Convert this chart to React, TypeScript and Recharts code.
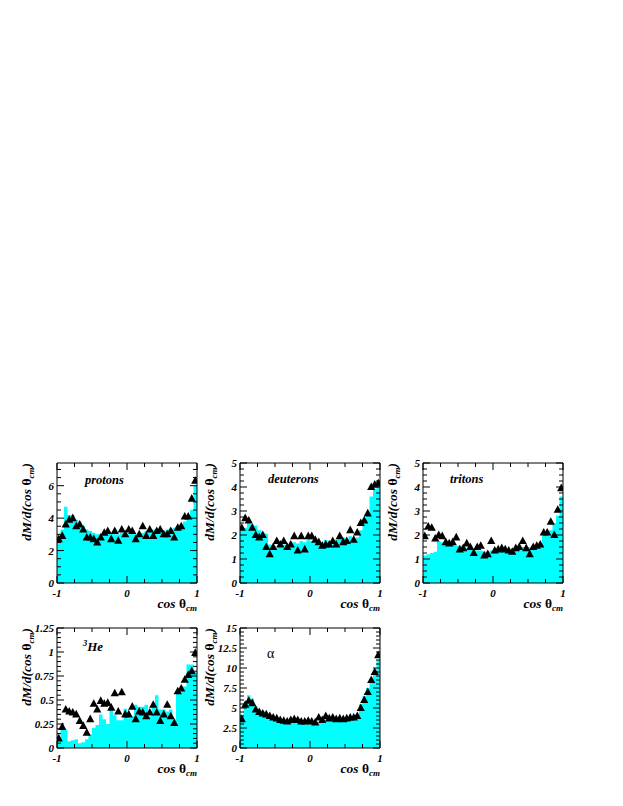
import React from "react";
import { ComposedChart, Area, Line, XAxis, YAxis } from "recharts";

const FONT = "'Liberation Serif', 'Times New Roman', serif";
const CYAN = "#00ffff";

// 40 bins of width 0.05 over cos(theta_cm) in [-1, 1]
const binEdges = Array.from({ length: 41 }, (_, i) => -1 + i * 0.05);
const binCenters = binEdges.slice(0, 40).map((e) => e + 0.025);

const xLabels = [-1, 0, 1];

// protons
const protonsHist = [
  2.6, 3.3, 4.7, 4.2, 4.2, 3.9, 3.8, 3.5, 3.3, 3.2, 3.1, 3.0, 3.0, 3.0, 3.1, 3.1, 3.0, 3.0, 3.1, 3.0,
  3.0, 3.1, 3.0, 3.1, 3.1, 3.2, 3.2, 3.3, 3.2, 3.3, 3.2, 3.3, 3.3, 3.4, 3.5, 3.6, 3.8, 4.0, 4.5, 6.0,
];
const protonsPts = [
  2.7, 2.9, 3.6, 3.9, 4.0, 3.5, 3.6, 3.3, 2.8, 2.8, 2.7, 2.5, 2.8, 3.1, 3.2, 2.7, 3.2, 2.6, 3.3, 3.0,
  3.3, 3.2, 2.7, 3.0, 3.5, 2.9, 3.3, 2.9, 3.2, 3.3, 3.0, 3.0, 3.2, 2.8, 3.4, 3.5, 4.1, 4.1, 5.2, 6.3,
];
const protonsYLabels = [0, 2, 4, 6];

// deuterons
const deuteronsHist = [
  2.2, 2.3, 2.5, 2.45, 2.4, 2.2, 2.1, 2.05, 1.6, 1.5, 1.45, 1.5, 1.6, 1.6, 1.65, 1.7, 1.65, 1.75, 1.7, 1.8,
  1.75, 1.7, 1.75, 1.7, 1.8, 1.7, 1.75, 1.8, 1.85, 1.9, 1.8, 1.95, 1.8, 1.9, 2.2, 2.7, 2.9, 3.6, 3.9, 4.0,
];
const deuteronsPts = [
  2.3, 2.7, 2.6, 2.3, 2.0, 1.9, 2.0, 1.5, 1.2, 1.5, 1.75, 1.6, 1.75, 1.5, 1.6, 1.95, 1.35, 1.95, 1.4, 1.95,
  1.95, 1.8, 1.7, 1.55, 1.6, 1.6, 1.75, 1.6, 1.95, 1.7, 1.75, 2.2, 1.8, 2.1, 2.5, 2.6, 2.9, 4.0, 4.1, 4.15,
];
const deuteronsYLabels = [0, 1, 2, 3, 4, 5];

// tritons
const tritonsHist = [
  1.15, 1.2, 1.25, 1.3, 1.75, 1.7, 1.65, 1.6, 1.6, 1.55, 1.55, 1.5, 1.45, 1.4, 1.4, 1.35, 1.35, 1.3, 1.3, 1.35,
  1.3, 1.35, 1.35, 1.4, 1.4, 1.35, 1.45, 1.4, 1.5, 1.45, 1.5, 1.5, 1.55, 1.5, 2.0, 2.1, 2.2, 2.5, 2.8, 3.6,
];
const tritonsPts = [
  1.95, 2.35, 2.3, 1.85, 2.0, 1.95, 1.7, 1.65, 1.7, 1.9, 1.4, 1.45, 1.65, 1.5, 1.25, 1.5, 1.55, 1.15, 1.2, 1.75,
  1.35, 1.4, 1.45, 1.4, 1.35, 1.3, 1.45, 1.5, 1.75, 1.45, 1.2, 1.5, 1.55, 1.6, 2.1, 2.1, 2.55, 2.0, 3.05, 3.95,
];
const tritonsYLabels = [0, 1, 2, 3, 4, 5];

// 3He
const he3Hist = [
  0.1, 0.2, 0.19, 0.07, 0.08, 0.09, 0.05, 0.06, 0.09, 0.14, 0.21, 0.24, 0.35, 0.3, 0.25, 0.4, 0.34, 0.29, 0.29, 0.41,
  0.31, 0.33, 0.45, 0.43, 0.43, 0.45, 0.33, 0.45, 0.55, 0.4, 0.4, 0.38, 0.4, 0.3, 0.59, 0.64, 0.64, 0.87, 0.87, 0.79,
];
const he3Pts = [
  0.1, 0.22, 0.4, 0.38, 0.37, 0.35, 0.28, 0.23, 0.16, 0.3, 0.46, 0.4, 0.49, 0.46, 0.47, 0.42, 0.57, 0.38, 0.58, 0.35,
  0.35, 0.43, 0.3, 0.38, 0.37, 0.33, 0.37, 0.45, 0.37, 0.28, 0.35, 0.45, 0.33, 0.26, 0.59, 0.62, 0.71, 0.76, 0.8, 0.99,
];
const he3YLabels = [0, 0.25, 0.5, 0.75, 1, 1.25];

// alpha
const alphaHist = [
  4.2, 5.2, 6.6, 6.2, 5.2, 4.8, 4.6, 4.5, 4.2, 3.9, 3.7, 3.4, 3.3, 3.2, 3.3, 3.2, 3.1, 3.2, 3.1, 3.1,
  3.0, 3.1, 3.2, 3.5, 3.7, 3.6, 3.5, 3.5, 3.6, 3.5, 3.6, 3.7, 3.7, 4.2, 5.5, 6.5, 7.5, 8.5, 9.5, 11.0,
];
const alphaPts = [
  3.6, 5.4, 5.9, 5.6, 4.8, 4.5, 4.3, 4.2, 4.0, 3.8, 3.7, 3.5, 3.4, 3.3, 3.5, 3.6, 3.5, 3.3, 3.3, 3.4,
  3.3, 3.2, 3.8, 3.5, 4.0, 3.7, 3.8, 3.6, 3.7, 3.6, 3.7, 3.8, 3.8, 4.0, 5.0, 6.0, 7.0, 8.5, 9.5, 11.6,
];
const alphaYLabels = [0, 2.5, 5, 7.5, 10, 12.5, 15];

const PLOT_W = 140;
const PLOT_H = 120;
// axes take 1px each, so the margins are one less than the room around the frame
const M = { top: 9, right: 9, bottom: 34, left: 49 };

const near = (a: number, b: number) => Math.abs(a - b) < 1e-6;
const fmt = (v: number) => String(Number(v.toFixed(3)));

function steps(from: number, to: number, step: number) {
  const n = Math.floor((to - from) / step + 1e-6);
  return Array.from({ length: n + 1 }, (_, i) => Number((from + i * step).toFixed(4)));
}

const labelStyle = {
  fontFamily: FONT,
  fontSize: 11,
  fontWeight: "bold" as const,
  fontStyle: "italic" as const,
  fill: "#000",
};

function makeTick(side: "bottom" | "top" | "left" | "right", labels: number[]) {
  return (props: any) => {
    const { x, y, payload } = props;
    const v = payload.value as number;
    const major = labels.some((l) => near(l, v));
    const len = major ? 7 : 4;
    if (side === "bottom") {
      return (
        <g>
          <line x1={x} x2={x} y1={y} y2={y - len} stroke="#000" />
          {major && (
            <text x={x} y={y + 14} textAnchor="middle" {...labelStyle}>
              {fmt(v)}
            </text>
          )}
        </g>
      );
    }
    if (side === "top") {
      return <line x1={x} x2={x} y1={y} y2={y + len} stroke="#000" />;
    }
    if (side === "left") {
      return (
        <g>
          <line x1={x} x2={x + len} y1={y} y2={y} stroke="#000" />
          {major && (
            <text x={x - 3} y={y + 4} textAnchor="end" {...labelStyle}>
              {fmt(v)}
            </text>
          )}
        </g>
      );
    }
    return <line x1={x} x2={x - len} y1={y} y2={y} stroke="#000" />;
  };
}

const Tri = (p: any) => {
  const { cx, cy } = p;
  if (cx == null || cy == null) return <g key={p.key} />;
  return (
    <polygon
      key={p.key}
      points={`${cx},${cy - 4.6} ${cx - 4.1},${cy + 3} ${cx + 4.1},${cy + 3}`}
      fill="#000"
    />
  );
};

type PanelProps = {
  left: number;
  top: number;
  hist: number[];
  pts: number[];
  yMax: number;
  yLabels: number[];
  yMinor: number;
};

const xTicks = steps(-1, 1, 0.25);

function Panel({ left, top, hist, pts, yMax, yLabels, yMinor }: PanelProps) {
  const histRows = binEdges.map((x, i) => ({ x, h: hist[Math.min(i, hist.length - 1)] }));
  const ptRows = binCenters.map((x, i) => ({ x, y: pts[i] }));
  const yTicks = steps(0, yMax, yMinor);
  const axisLine = { stroke: "#000", strokeWidth: 1 };
  return (
    <div style={{ position: "absolute", left: left - M.left - 1, top: top - M.top - 1 }}>
      <ComposedChart width={PLOT_W + M.left + M.right + 2} height={PLOT_H + M.top + M.bottom + 2} margin={M}>
        <Area
          data={histRows}
          xAxisId="b"
          yAxisId="l"
          dataKey="h"
          type="stepAfter"
          fill={CYAN}
          fillOpacity={1}
          stroke="none"
          isAnimationActive={false}
        />
        <Line
          data={ptRows}
          xAxisId="b"
          yAxisId="l"
          dataKey="y"
          stroke="none"
          dot={Tri}
          activeDot={false}
          isAnimationActive={false}
        />
        <XAxis
          xAxisId="b"
          dataKey="x"
          type="number"
          orientation="bottom"
          domain={[-1, 1]}
          allowDataOverflow
          ticks={xTicks}
          interval={0}
          height={1}
          tickSize={0}
          tickMargin={0}
          tickLine={false}
          axisLine={axisLine}
          tick={makeTick("bottom", xLabels)}
        />
        <XAxis
          xAxisId="t"
          dataKey="x"
          type="number"
          orientation="top"
          domain={[-1, 1]}
          allowDataOverflow
          ticks={xTicks}
          interval={0}
          height={1}
          tickSize={0}
          tickMargin={0}
          tickLine={false}
          axisLine={axisLine}
          tick={makeTick("top", xLabels)}
        />
        <YAxis
          yAxisId="l"
          type="number"
          orientation="left"
          domain={[0, yMax]}
          allowDataOverflow
          ticks={yTicks}
          interval={0}
          width={1}
          tickSize={0}
          tickMargin={0}
          tickLine={false}
          axisLine={axisLine}
          tick={makeTick("left", yLabels)}
        />
        <YAxis
          yAxisId="r"
          type="number"
          orientation="right"
          domain={[0, yMax]}
          allowDataOverflow
          ticks={yTicks}
          interval={0}
          width={1}
          tickSize={0}
          tickMargin={0}
          tickLine={false}
          axisLine={axisLine}
          tick={makeTick("right", yLabels)}
        />
      </ComposedChart>
    </div>
  );
}

const panels = [
  { left: 57, top: 463, hist: protonsHist, pts: protonsPts, yMax: 7.4, yLabels: protonsYLabels, yMinor: 0.5 },
  { left: 240, top: 463, hist: deuteronsHist, pts: deuteronsPts, yMax: 5, yLabels: deuteronsYLabels, yMinor: 0.25 },
  { left: 423, top: 463, hist: tritonsHist, pts: tritonsPts, yMax: 5, yLabels: tritonsYLabels, yMinor: 0.25 },
  { left: 57, top: 628, hist: he3Hist, pts: he3Pts, yMax: 1.25, yLabels: he3YLabels, yMinor: 0.05 },
  { left: 240, top: 628, hist: alphaHist, pts: alphaPts, yMax: 15, yLabels: alphaYLabels, yMinor: 0.5 },
];

const titleFont = {
  fontFamily: FONT,
  fontWeight: "bold" as const,
  fontStyle: "italic" as const,
  fill: "#000",
};

function Titles({ left, top }: { left: number; top: number }) {
  return (
    <g>
      <text transform={`translate(${left - 26},${top}) rotate(-90)`} textAnchor="end" fontSize={13.5} {...titleFont}>
        dM/d(cos <tspan fontStyle="normal">θ</tspan>
        <tspan fontSize={9} dy={3}>
          cm
        </tspan>
        <tspan dy={-3}>)</tspan>
      </text>
      <text x={left + PLOT_W} y={top + PLOT_H + 25} textAnchor="end" fontSize={13.5} {...titleFont}>
        cos <tspan fontStyle="normal">θ</tspan>
        <tspan fontSize={9} dy={3}>
          cm
        </tspan>
      </text>
    </g>
  );
}

export default function App() {
  return (
    <div style={{ position: "absolute", left: 0, top: 0, width: 623, height: 806, background: "#fff" }}>
      {panels.map((p, i) => (
        <Panel key={i} {...p} />
      ))}
      <svg
        width={623}
        height={806}
        style={{ position: "absolute", left: 0, top: 0, pointerEvents: "none" }}
      >
        {panels.map((p, i) => (
          <Titles key={i} left={p.left} top={p.top} />
        ))}
        <text x={85} y={484} fontSize={12.5} {...titleFont}>
          protons
        </text>
        <text x={268} y={483} fontSize={12.5} {...titleFont}>
          deuterons
        </text>
        <text x={450} y={483} fontSize={12.5} {...titleFont}>
          tritons
        </text>
        <text x={83} y={651} fontSize={13} {...titleFont}>
          <tspan fontSize={8.5} dy={-5}>
            3
          </tspan>
          <tspan dy={5}>He</tspan>
        </text>
        <text x={267} y={658} fontSize={14} fontFamily={FONT} fill="#000">
          α
        </text>
      </svg>
    </div>
  );
}
